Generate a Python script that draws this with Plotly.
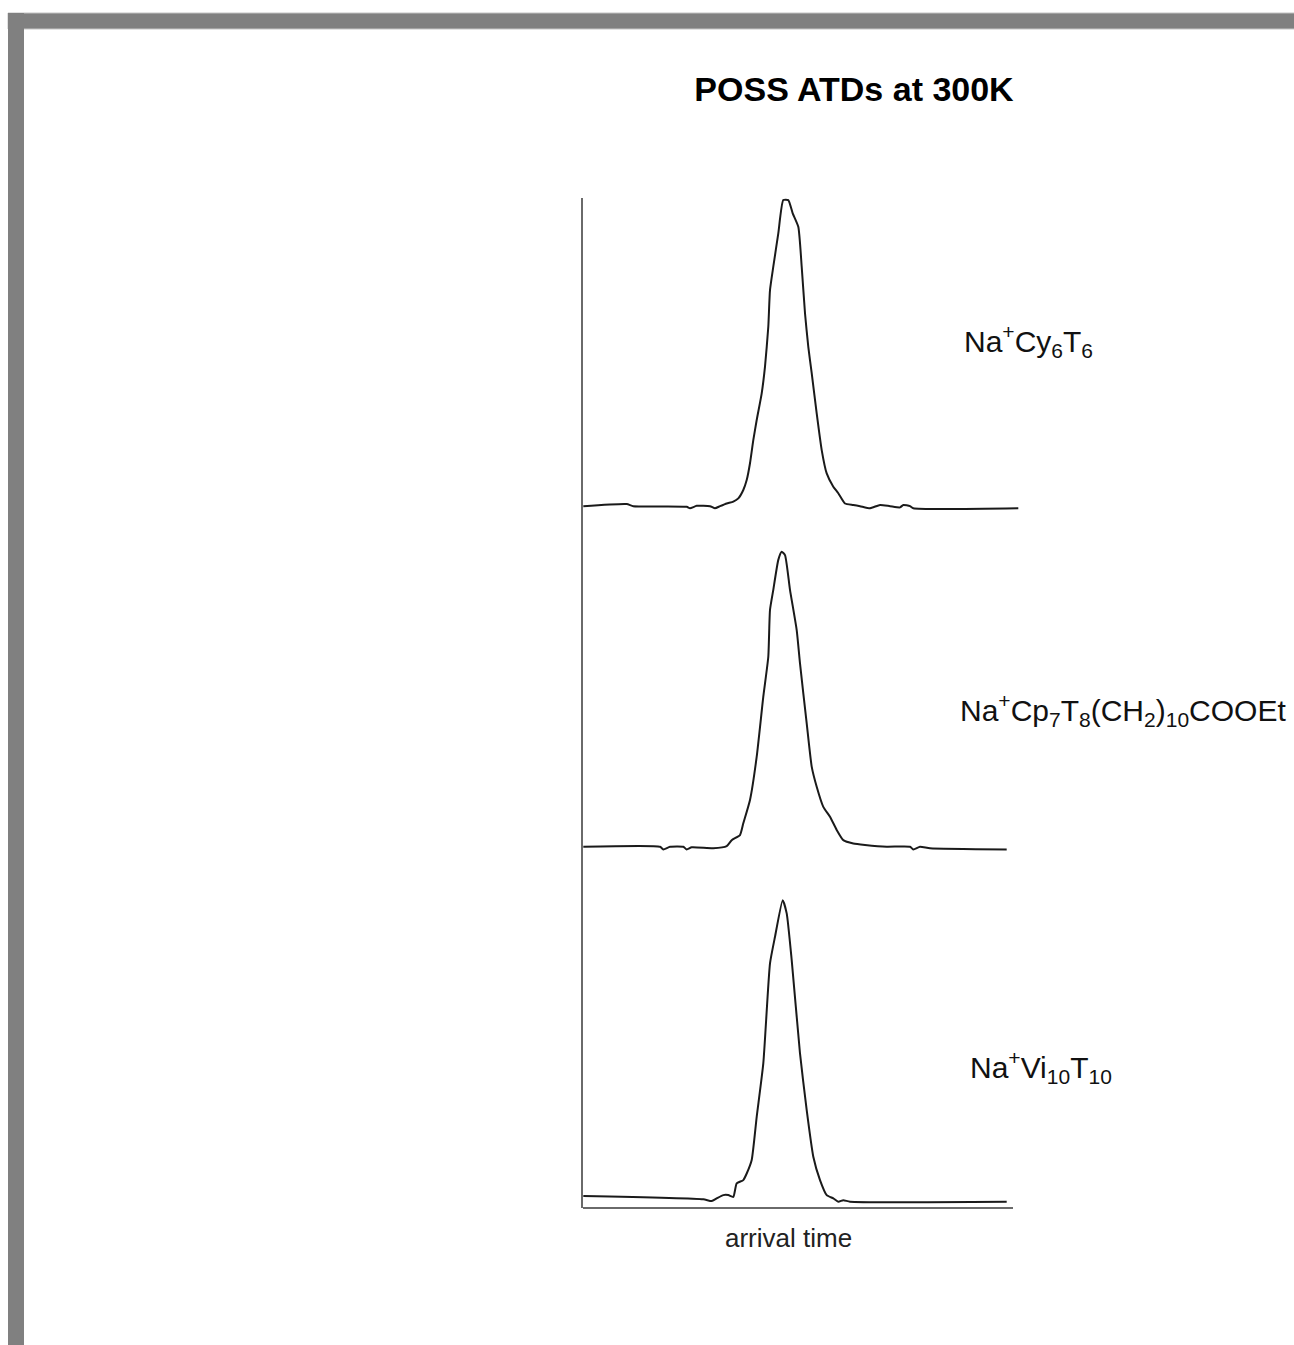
import plotly.graph_objects as go

# ---- data: arrival-time distributions (arbitrary units) ----
labels = [
    "Na<sup>+</sup>Cy<sub>6</sub>T<sub>6</sub>",
    "Na<sup>+</sup>Cp<sub>7</sub>T<sub>8</sub>(CH<sub>2</sub>)<sub>10</sub>COOEt",
    "Na<sup>+</sup>Vi<sub>10</sub>T<sub>10</sub>",
]

cy6t6_t = [0.3, 43.7, 50.3, 103.7, 107, 113.7, 127, 132, 137, 143.7, 150.3, 155.3, 160.3, 163.7,
           167, 170.3, 173.7, 178.7, 182, 185.3, 187, 190.3, 195.3, 200.3, 205.3, 209.7, 215.3,
           218.7, 222, 225.3, 228.7, 233.7, 238.7, 243.7, 250.3, 255.3, 262, 270.3, 277, 287,
           297, 307, 317, 320.3, 327, 330.3, 435.3]
cy6t6_i = [0.003, 0.010, 0.003, 0.001, -0.004, 0.004, 0.003, -0.004, 0.003, 0.012, 0.018, 0.029,
           0.057, 0.090, 0.146, 0.223, 0.290, 0.379, 0.468, 0.601, 0.723, 0.801, 0.912, 1.023,
           1.023, 0.979, 0.934, 0.801, 0.646, 0.534, 0.446, 0.312, 0.190, 0.112, 0.068, 0.046,
           0.012, 0.007, 0.003, -0.004, 0.007, 0.003, -0.001, 0.007, 0.003, -0.004, -0.004]

cp7t8_t = [0.3, 77, 80.3, 87, 100.3, 103.7, 108.7, 130.3, 143.7, 148.7, 157, 160.3, 167, 173.7,
           180.3, 185.3, 187, 190.3, 195.3, 198.7, 202, 207, 213.7, 217, 223.7, 228.7, 233.7,
           240.3, 247, 253.7, 260.3, 270.3, 282, 303.7, 327, 330.3, 337, 347, 423.7]
cp7t8_i = [0.001, 0.001, -0.008, 0.001, 0.001, -0.008, -0.001, -0.004, 0.003, 0.023, 0.040,
           0.079, 0.157, 0.301, 0.501, 0.634, 0.790, 0.857, 0.957, 0.984, 0.973, 0.857, 0.723,
           0.612, 0.412, 0.268, 0.201, 0.134, 0.101, 0.057, 0.023, 0.012, 0.007, 0.001, 0.001,
           -0.008, 0.001, -0.004, -0.008]

vi10t10_t = [0.3, 120.3, 128.7, 133.7, 140.3, 145.3, 150.3, 153.7, 160.3, 163.7, 168.7, 173.7,
             180.3, 187, 192, 199.7, 203.7, 208.7, 217, 223.7, 230.3, 237, 243.7, 250.3, 255.3,
             260.3, 267, 423.7]
vi10t10_i = [0.037, 0.026, 0.020, 0.029, 0.040, 0.040, 0.034, 0.079, 0.090, 0.112, 0.157, 0.301,
             0.479, 0.812, 0.901, 1.023, 0.979, 0.823, 0.512, 0.323, 0.168, 0.090, 0.040, 0.029,
             0.018, 0.023, 0.018, 0.018]

# vertical stacking offsets of the three traces (intensity units)
offsets = [2.333, 1.2, 0.0]

series = [(cy6t6_t, cy6t6_i), (cp7t8_t, cp7t8_i), (vi10t10_t, vi10t10_i)]

FONT = "Liberation Sans, Arial, Helvetica, sans-serif"

fig = go.Figure()
for (t, inten), off in zip(series, offsets):
    fig.add_trace(go.Scatter(
        x=t, y=[v + off for v in inten], mode="lines",
        line=dict(color="#1a1a1a", width=2, shape="spline", smoothing=0.5),
        showlegend=False, hoverinfo="skip",
    ))

# label positions (x in arrival-time units, y in stacked intensity units)
label_pos = [(379, 2.887), (375, 1.657), (385, 0.467)]
for txt, (lx, ly) in zip(labels, label_pos):
    fig.add_annotation(x=lx, y=ly, xref="x", yref="y", text=txt, showarrow=False,
                       xanchor="left", yanchor="middle",
                       font=dict(family=FONT, size=30, color="#111"))

fig.add_annotation(x=0.472, y=-0.03, xref="paper", yref="paper", text="arrival time",
                   showarrow=False, xanchor="center", yanchor="middle",
                   font=dict(family=FONT, size=26, color="#222"))

shapes = [
    # bottom axis line
    dict(type="line", xref="x", yref="paper", x0=0, x1=430, y0=0, y1=0,
         line=dict(color="#6a6a6a", width=2)),
    # grey window frame (top and left bars)
    dict(type="rect", xref="paper", yref="paper", x0=-1.31881, x1=1.66, y0=1.16733, y1=1.18317,
         fillcolor="#808080", line=dict(color="#c4c4c4", width=1)),
    dict(type="rect", xref="paper", yref="paper", x0=-1.31881, x1=-1.28211, y0=-0.16, y1=1.18317,
         fillcolor="#808080", line=dict(width=0)),
]

fig.update_layout(
    width=1294, height=1345,
    margin=dict(l=583, r=275, t=198, b=137, pad=0),
    paper_bgcolor="white", plot_bgcolor="white",
    title=dict(text="<b>POSS ATDs at 300K</b>", x=0.6216, xref="paper", y=0.9338, yref="container",
               xanchor="center", yanchor="middle",
               font=dict(family=FONT, size=34, color="#000")),
    xaxis=dict(range=[0, 436], showline=False, showgrid=False, zeroline=False,
               showticklabels=False, ticks=""),
    yaxis=dict(range=[-0.003, 3.363], showline=True, linecolor="#6a6a6a", linewidth=2,
               showgrid=False, zeroline=False, showticklabels=False, ticks=""),
    shapes=shapes,
)

fig.write_html("out.html", config={"displayModeBar": False},
               post_script="document.body.style.margin='0px';")
